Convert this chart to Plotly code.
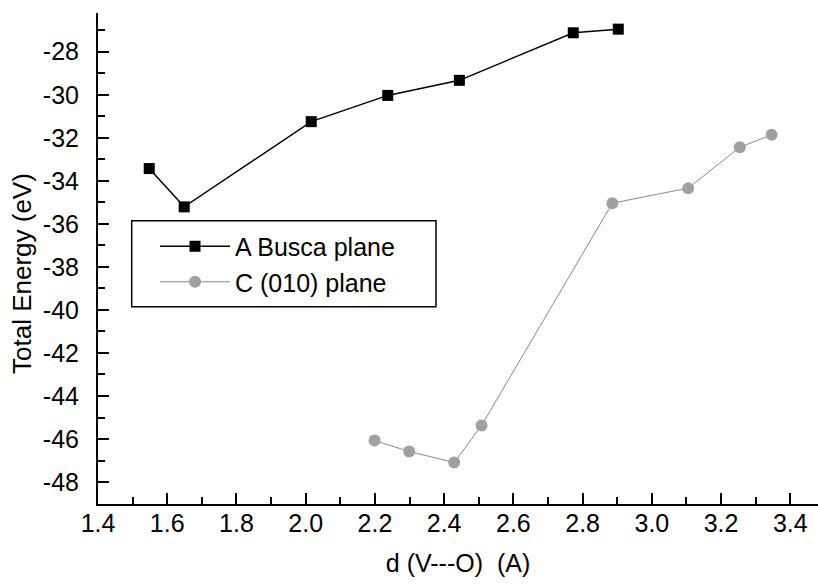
import plotly.graph_objects as go

# Series A: Busca plane
a_x = [1.548, 1.649, 2.016, 2.237, 2.444, 2.773, 2.903]
a_y = [-33.43, -35.21, -31.25, -30.03, -29.33, -27.12, -26.95]

# Series C: (010) plane
c_x = [2.199, 2.299, 2.429, 2.508, 2.886, 3.105, 3.254, 3.346]
c_y = [-46.07, -46.58, -47.09, -45.37, -35.04, -34.34, -32.44, -31.86]

x_tickvals = [1.4, 1.6, 1.8, 2.0, 2.2, 2.4, 2.6, 2.8, 3.0, 3.2, 3.4]
x_ticktext = ["1.4", "1.6", "1.8", "2.0", "2.2", "2.4", "2.6", "2.8", "3.0", "3.2", "3.4"]
y_tickvals = [-28, -30, -32, -34, -36, -38, -40, -42, -44, -46, -48]
y_ticktext = ["-28", "-30", "-32", "-34", "-36", "-38", "-40", "-42", "-44", "-46", "-48"]

FONT = "Liberation Sans, Arial, Helvetica, sans-serif"

fig = go.Figure()
fig.add_trace(go.Scatter(
    x=a_x, y=a_y, mode="lines+markers", name="A Busca plane",
    line=dict(color="black", width=1.5),
    marker=dict(symbol="square", size=11, color="black"),
))
fig.add_trace(go.Scatter(
    x=c_x, y=c_y, mode="lines+markers", name="C (010) plane",
    line=dict(color="#8a8a8a", width=1),
    marker=dict(symbol="circle", size=12, color="#a0a0a0"),
))

axis_common = dict(
    showline=True, linecolor="black", linewidth=2,
    ticks="inside", ticklen=11, tickwidth=2, tickcolor="black",
    showgrid=False, zeroline=False, mirror=False, automargin=False,
    tickfont=dict(family=FONT, size=25, color="black"),
)

# plot area in pixels: x 98..818, y 13..504
PW, PH = 720.0, 491.0

def px(xp):
    return (xp - 98) / PW

def py(yp):
    return (504 - yp) / PH

fig.update_layout(
    template="none",
    width=818, height=584,
    margin=dict(l=98, r=0, t=13, b=80, pad=0),
    paper_bgcolor="white", plot_bgcolor="white",
    font=dict(family=FONT, color="black"),
    showlegend=True,
    xaxis=dict(
        range=[1.4, 3.48],
        tickmode="array", tickvals=x_tickvals, ticktext=x_ticktext,
        minor=dict(dtick=0.1, tick0=1.4, ticks="inside", ticklen=7, tickwidth=2, tickcolor="black"),
        title=dict(text="d (V---O)  (A)", font=dict(family=FONT, size=25), standoff=18),
        ticklabelstandoff=-4,
        **axis_common,
    ),
    yaxis=dict(
        range=[-49.02, -26.2],
        tickmode="array", tickvals=y_tickvals, ticktext=y_ticktext,
        minor=dict(dtick=1, tick0=-49, ticks="inside", ticklen=7, tickwidth=2, tickcolor="black"),
        ticklabelstandoff=12,
        **axis_common,
    ),
    legend=dict(
        x=px(155), y=py(223.5), xanchor="left", yanchor="top",
        borderwidth=0, bgcolor="rgba(0,0,0,0)",
        font=dict(family=FONT, size=25, color="black"),
        itemwidth=70, tracegroupgap=0,
    ),
    shapes=[dict(
        type="rect", xref="paper", yref="paper",
        x0=px(131.7), x1=px(436), y0=py(306.7), y1=py(220.7),
        line=dict(color="black", width=1.5), fillcolor="rgba(0,0,0,0)",
        layer="below",
    )],
    annotations=[dict(
        text="Total Energy (eV)", textangle=-90,
        xref="paper", yref="paper", x=px(22), y=py(274),
        xanchor="center", yanchor="middle", showarrow=False,
        font=dict(family=FONT, size=26, color="black"),
    )],
)

fig.write_html(
    "out.html",
    config={"displayModeBar": False},
    post_script="document.body.style.margin='0';document.body.style.overflow='hidden';",
)
